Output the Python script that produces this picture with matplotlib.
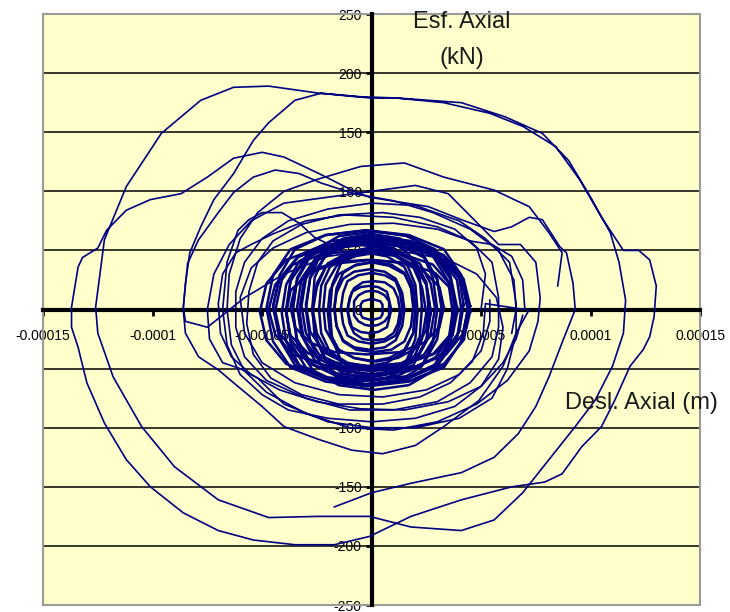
import numpy as np
import matplotlib.pyplot as plt
from matplotlib.patches import Rectangle

# displacement in micrometres, force in kN
outer_x = [-17, 0, 18, 41, 56, 67, 75, 81, 87,
           93, 92, 89, 86, 78, 72, 64, 56, 41, 26,
           -1, -9, -24, -40, -50, -63, -75, -87, -101, -112,
           -121, -125, -132, -134, -137, -137, -134, -130, -122, -112,
           -101, -86, -70, -54, -35, -17, -1, 18, 41, 64,
           79, 87, 96, 105, 111, 118, 124, 127, 129, 130,
           127, 122, 115, 105, 95, 84, 69, 54, 33, 11,
           -1, -24, -47, -63, -78, -96, -112, -122, -126, -125,
           -118, -105, -90, -70, -47, -24, -1, 18, 41, 56,
           69, 81, 93, 102, 110, 115, 116, 113, 109, 100,
           90, 78, 61, 41, 11, -5, -23, -35, -47, -54,
           -63, -72, -78, -83, -85, -86, -85, -79, -70, -63,
           -50, -40, -24, -9, 5, 20, 33, 49, 60, 66, 72]
outer_y = [-167, -155, -147, -138, -125, -105, -82, -57, -28,
           0, 22, 48, 53, 76, 78, 70, 66, 76, 87,
           95, 101, 115, 129, 133, 128, 112, 98, 93, 84,
           67, 52, 44, 36, 2, -15, -32, -62, -96, -127,
           -150, -172, -187, -195, -199, -199, -192, -175, -161, -150,
           -146, -139, -116, -99, -77, -48, -34, -23, -6, 20,
           42, 50, 50, 78, 110, 138, 155, 166, 175, 179,
           179, 183, 189, 188, 177, 149, 104, 59, 2, -20,
           -57, -99, -133, -161, -176, -175, -175, -184, -187, -178,
           -155, -127, -99, -77, -48, -20, 8, 40, 65, 95,
           126, 149, 163, 175, 179, 180, 183, 177, 158, 143,
           115, 93, 70, 48, 22, 0, -20, -40, -51, -62,
           -82, -99, -110, -119, -122, -115, -99, -77, -48, -20, 0]

mid_x = [85, 87, 81, 72, 56, 33, 15, -5, -25, -40,
         -52, -60, -65, -66, -64, -58, -48, -30, -10, 10,
         30, 48, 62, 72, 76, 77, 75, 68, 58, 50,
         35, 20, 0, -20, -40, -55, -65, -72, -75, -74,
         -68, -60, -52, -40, -20, 0, 20, 40, 55, 62,
         66, 66, 63, 52, 40, 20, 0, -20, -38, -50,
         -58, -62, -62, -58, -48, -30, -10, 10, 30, 45,
         55, 58, 58, 55, 45, 30, 10, -10, -30, -45,
         -55, -60, -58, -50, -35, -15, 5, 25, 40, 50, 54, 54]
mid_y = [20, 48, 65, 87, 101, 112, 124, 121, 110, 100,
         82, 60, 30, 0, -30, -52, -70, -88, -100, -102,
         -95, -80, -60, -35, -10, 10, 40, 55, 55, 70,
         98, 105, 100, 95, 90, 75, 55, 30, 0, -25,
         -45, -50, -58, -80, -95, -100, -100, -92, -75, -50,
         -20, 5, 40, 60, 75, 88, 90, 85, 75, 60,
         40, 15, -15, -40, -60, -75, -85, -85, -78, -62,
         -40, -15, 10, 40, 58, 68, 73, 72, 65, 52,
         35, 10, -20, -45, -62, -72, -74, -68, -55, -35, -10, 8]

mid2_x = [50, 52, 48, 38, 22, 5, -15, -32, -45, -52, -56, -57, -54, -46,
          -32, -15, 5, 22, 36, 46, 51, 52,
          70, 69, 64, 55, 45, 30, 10, -12, -30, -45, -55, -62, -68, -70,
          -69, -64, -55, -42, -25, -5, 15, 35, 50, 60, 66, 69]
mid2_y = [0, 30, 52, 68, 78, 82, 80, 72, 58, 40, 15, -12, -38, -58,
          -72, -80, -80, -74, -62, -44, -20, 5,
          0, 25, 45, 55, 58, 70, 78, 80, 75, 64, 55, 48, 30, 5,
          -20, -40, -55, -68, -78, -84, -85, -78, -65, -45, -25, -5]

mid3_x = [-8, -17, -26, -33, -41, -50, -56, -61, -66, -68,
          -66, -60, -50, -38, -20, 0, 20, 38, 50, 58,
          60, 57, 48, 35, 18, 0, -20, -40, -58, -75,
          -85, -86, -84, -79, -70, -63, -54, -44, -33, -23,
          -8, 10, 28, 45, 58, 65, 66, 64]
mid3_y = [44, 53, 61, 73, 82, 82, 76, 67, 40, 0,
          -30, -55, -72, -85, -92, -95, -92, -82, -65, -42,
          -15, 10, 30, 42, 48, 50, 45, 30, 10, -15,
          -10, 2, 39, 59, 82, 99, 112, 118, 115, 107,
          98, 92, 82, 68, 50, 25, 0, -20]

# the dense core: one row per cycle
inner_x = [
    [44, 41, 33, 17, -2, -21, -37, -45, -48, -45, -37, -21, -2, 17, 33, 41],
    [44, 41, 33, 18, 0, -18, -33, -41, -44, -41, -33, -18, 0, 18, 33, 41],
    [39, 36, 29, 15, -3, -21, -35, -42, -45, -42, -35, -21, -3, 15, 29, 36],
    [41, 39, 31, 18, 1, -16, -29, -37, -39, -37, -29, -16, 1, 18, 31, 39],
    [37, 35, 28, 15, -1, -17, -30, -37, -39, -37, -30, -17, -1, 15, 28, 35],
    [38, 36, 29, 17, 2, -13, -25, -32, -34, -32, -25, -13, 2, 17, 29, 36],
    [32, 30, 24, 12, -2, -16, -28, -34, -36, -34, -28, -16, -2, 12, 24, 30],
    [32, 30, 24, 13, 0, -13, -24, -30, -32, -30, -24, -13, 0, 13, 24, 30],
    [27, 25, 20, 10, -3, -16, -26, -31, -33, -31, -26, -16, -3, 10, 20, 25],
    [29, 27, 22, 13, 1, -11, -20, -25, -27, -25, -20, -11, 1, 13, 22, 27],
    [25, 23, 19, 10, -1, -12, -21, -25, -27, -25, -21, -12, -1, 10, 19, 23],
    [26, 25, 20, 12, 2, -8, -16, -21, -22, -21, -16, -8, 2, 12, 20, 25],
    [20, 19, 15, 7, -2, -11, -19, -23, -24, -23, -19, -11, -2, 7, 15, 19],
    [20, 19, 15, 8, 0, -8, -15, -19, -20, -19, -15, -8, 0, 8, 15, 19],
    [19, 18, 15, 9, 1, -7, -13, -16, -17, -16, -13, -7, 1, 9, 15, 18],
    [15, 14, 11, 6, -1, -8, -13, -16, -17, -16, -13, -8, -1, 6, 11, 14],
    [14, 13, 11, 6, 0, -6, -11, -13, -14, -13, -11, -6, 0, 6, 11, 13],
    [13, 12, 10, 6, 1, -4, -8, -10, -11, -10, -8, -4, 1, 6, 10, 12],
    [9, 8, 7, 3, -1, -5, -9, -10, -11, -10, -9, -5, -1, 3, 7, 8],
    [8, 8, 6, 3, 0, -3, -6, -8, -8, -8, -6, -3, 0, 3, 6, 8],
    [5, 5, 4, 2, 0, -2, -4, -5, -5, -5, -4, -2, 0, 2, 4, 5],
    [45, 42, 34, 19, 0, -19, -34, -42, -45, -42, -34, -19, 0, 19, 34, 42],
    [39, 36, 28, 14, -4, -22, -36, -44, -47, -44, -36, -22, -4, 14, 28, 36],
    [39, 37, 29, 16, 0, -16, -29, -37, -39, -37, -29, -16, 0, 16, 29, 37],
    [33, 31, 24, 13, -2, -17, -28, -35, -37, -35, -28, -17, -2, 13, 24, 31],
    [30, 28, 23, 13, 0, -13, -23, -28, -30, -28, -23, -13, 0, 13, 23, 28],
    [23, 22, 17, 9, -2, -13, -21, -26, -27, -26, -21, -13, -2, 9, 17, 22],
    [21, 20, 16, 9, 1, -7, -14, -18, -19, -18, -14, -7, 1, 9, 16, 20],
    [38, 36, 29, 17, 1, -15, -27, -34, -36, -34, -27, -15, 1, 17, 29, 36],
    [45, 42, 33, 17, -3, -23, -39, -48, -51, -48, -39, -23, -3, 17, 33, 42],
    [42, 40, 33, 21, 6, -9, -21, -28, -30, -28, -21, -9, 6, 21, 33, 40],
    [27, 25, 19, 7, -7, -21, -33, -39, -41, -39, -33, -21, -7, 7, 19, 25],
]
inner_y = [
    [1, 29, 51, 63, 67, 63, 51, 29, 1, -27, -49, -61, -65, -61, -49, -27],
    [-1, 25, 46, 58, 62, 58, 46, 25, -1, -27, -48, -60, -64, -60, -48, -27],
    [2, 29, 51, 63, 67, 63, 51, 29, 2, -25, -47, -59, -63, -59, -47, -25],
    [0, 25, 45, 56, 60, 56, 45, 25, 0, -25, -45, -56, -60, -56, -45, -25],
    [-2, 24, 45, 56, 60, 56, 45, 24, -2, -28, -49, -60, -64, -60, -49, -28],
    [2, 26, 45, 56, 59, 56, 45, 26, 2, -22, -41, -52, -55, -52, -41, -22],
    [0, 25, 45, 56, 60, 56, 45, 25, 0, -25, -45, -56, -60, -56, -45, -25],
    [3, 26, 44, 54, 57, 54, 44, 26, 3, -20, -38, -48, -51, -48, -38, -20],
    [-1, 23, 41, 52, 55, 52, 41, 23, -1, -25, -43, -54, -57, -54, -43, -25],
    [1, 22, 39, 48, 51, 48, 39, 22, 1, -20, -37, -46, -49, -46, -37, -20],
    [-3, 19, 36, 46, 49, 46, 36, 19, -3, -25, -42, -52, -55, -52, -42, -25],
    [2, 21, 37, 45, 48, 45, 37, 21, 2, -17, -33, -41, -44, -41, -33, -17],
    [0, 20, 36, 45, 48, 45, 36, 20, 0, -20, -36, -45, -48, -45, -36, -20],
    [-2, 16, 30, 37, 40, 37, 30, 16, -2, -20, -34, -41, -44, -41, -34, -20],
    [2, 18, 31, 38, 40, 38, 31, 18, 2, -14, -27, -34, -36, -34, -27, -14],
    [0, 14, 26, 32, 34, 32, 26, 14, 0, -14, -26, -32, -34, -32, -26, -14],
    [1, 14, 24, 29, 31, 29, 24, 14, 1, -12, -22, -27, -29, -27, -22, -12],
    [-1, 10, 18, 23, 24, 23, 18, 10, -1, -12, -20, -25, -26, -25, -20, -12],
    [0, 8, 15, 19, 20, 19, 15, 8, 0, -8, -15, -19, -20, -19, -15, -8],
    [1, 7, 12, 15, 16, 15, 12, 7, 1, -5, -10, -13, -14, -13, -10, -5],
    [0, 4, 7, 8, 9, 8, 7, 4, 0, -4, -7, -8, -9, -8, -7, -4],
    [3, 26, 44, 55, 58, 55, 44, 26, 3, -20, -38, -49, -52, -49, -38, -20],
    [0, 21, 38, 47, 50, 47, 38, 21, 0, -21, -38, -47, -50, -47, -38, -21],
    [-3, 16, 31, 39, 42, 39, 31, 16, -3, -22, -37, -45, -48, -45, -37, -22],
    [2, 19, 32, 40, 42, 40, 32, 19, 2, -15, -28, -36, -38, -36, -28, -15],
    [0, 27, 48, 60, 64, 60, 48, 27, 0, -27, -48, -60, -64, -60, -48, -27],
    [2, 27, 47, 58, 62, 58, 47, 27, 2, -23, -43, -54, -58, -54, -43, -23],
    [-2, 21, 39, 50, 53, 50, 39, 21, -2, -25, -43, -54, -57, -54, -43, -25],
    [-1, 27, 49, 62, 66, 62, 49, 27, -1, -29, -51, -64, -68, -64, -51, -29],
    [-2, 22, 42, 53, 56, 53, 42, 22, -2, -26, -46, -57, -60, -57, -46, -26],
    [4, 27, 45, 56, 59, 56, 45, 27, 4, -19, -37, -48, -51, -48, -37, -19],
    [-3, 21, 41, 52, 55, 52, 41, 21, -3, -27, -47, -58, -61, -58, -47, -27],
]

x_ticks = [-0.00015, -0.0001, -0.00005, 0, 0.00005, 0.0001, 0.00015]
x_tick_labels = ["-0.00015", "-0.0001", "-0.00005", "0", "0.00005", "0.0001", "0.00015"]
y_ticks = [-250, -200, -150, -100, -50, 0, 50, 100, 150, 200, 250]

line_color = "#000080"
um = 1e-6

plt.rcParams["font.family"] = ["Liberation Sans", "DejaVu Sans"]
fig = plt.figure(figsize=(7.3, 6.12), dpi=100)
ax = fig.add_axes([0.059, 0.0114, 0.9, 0.9657])
ax.set_facecolor("#FFFFCC")

for xs, ys in [(outer_x, outer_y), (mid_x, mid_y), (mid2_x, mid2_y), (mid3_x, mid3_y)]:
    ax.plot(np.array(xs) * um, ys, color=line_color, lw=1.2, zorder=3)
for lx, ly in zip(inner_x, inner_y):
    lx = np.append(lx, lx[0]) * um
    ly = np.append(ly, ly[0])
    ax.plot(lx, ly, color=line_color, lw=1.8, zorder=3)

ax.set_xlim(-0.00015, 0.00015)
ax.set_ylim(-250, 250)
ax.set_xticks(x_ticks)
ax.set_xticklabels(x_tick_labels)
ax.set_yticks(y_ticks)
ax.set_yticklabels([str(v) for v in y_ticks])

ax.yaxis.grid(True, color="black", lw=1.1)
ax.set_axisbelow(True)

for side in ["top", "right"]:
    ax.spines[side].set_visible(False)
for side in ["left", "bottom"]:
    ax.spines[side].set_position("zero")
    ax.spines[side].set_linewidth(3)
    ax.spines[side].set_zorder(2.5)
ax.tick_params(axis="both", length=4, width=2, labelsize=10, colors="black")
ax.tick_params(axis="x", pad=10)
ax.tick_params(axis="y", pad=3)

ax.add_patch(Rectangle((0, 0), 1, 1, transform=ax.transAxes, fill=False,
                       edgecolor="#9a9a9a", lw=1.5, clip_on=False, zorder=1))

fig.text(0.633, 0.964, "Esf. Axial", ha="center", va="center", fontsize=17, color="#1a1a1a")
fig.text(0.633, 0.905, "(kN)", ha="center", va="center", fontsize=17, color="#1a1a1a")
fig.text(0.878, 0.342, "Desl. Axial (m)", ha="center", va="center", fontsize=17, color="#1a1a1a")

fig.savefig("out.png", dpi=100)
